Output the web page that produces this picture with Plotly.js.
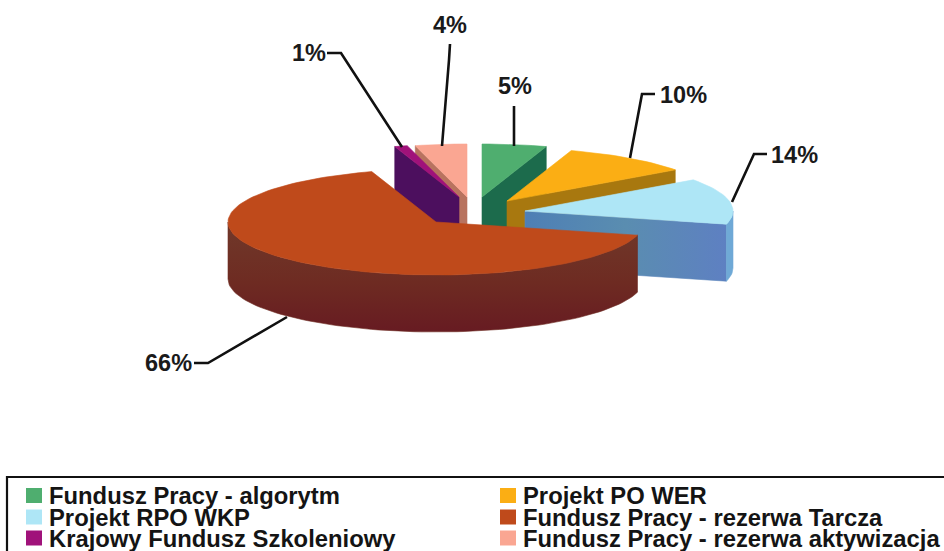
<!DOCTYPE html>
<html>
<head>
<meta charset="utf-8">
<script src="https://cdn.plot.ly/plotly-3.0.1.min.js"></script>
<style>html,body{margin:0;padding:0;background:#fff}#chart{width:944px;height:551px}</style>
</head>
<body>
<div id="chart"></div>
<script>
// Data
var categories = ["Fundusz Pracy - algorytm","Projekt PO WER","Projekt RPO WKP","Fundusz Pracy - rezerwa Tarcza","Krajowy Fundusz Szkoleniowy","Fundusz Pracy - rezerwa aktywizacja"];
var shares = [5,10,14,66,1,4];

// Styles
var topColors  = ["#4FAE6F","#FBAE14","#AEE6F6","#BF4A1B","#A0127A","#FAA692"];
var faceColors = ["#1C6B4C","#A8780F","#5C86BC","#6E2B22","#4C0F5E","#B8735F"];
var rimColors  = ["#1C6B4C","#A8780F","#6FA9D6","#6E2B22","#4C0F5E","#B8735F"];

// Layout of the tilted, exploded pie (pixel-like axes)
var RX = 208, RY = 53, DEPTH = 57;
var apexX = [482,507,525,436,459,467];
var apexY = [197,201,211,222,197,197];
var drawOrder = [0,5,4,1,2,3];
var leaders = [
  {i:0, t:[[514,106]],            rim:[514,146]},
  {i:1, t:[[655,94],[642,94]],    rim:[630,158]},
  {i:2, t:[[767,154],[754,154]],  rim:[732,202]},
  {i:3, t:[[194,363],[208,363]],  rim:[287,317]},
  {i:4, t:[[327,53],[341,53]],    rim:[402,147]},
  {i:5, t:[[450,44],[449,60]],    rim:[442,146]}
];
var labelPos = [[515,86,"center"],[658,95,"left"],[769,155,"left"],[194,363,"right"],[328,53,"right"],[450,25,"center"]];

// Angular extents from the values (clockwise from 12 o'clock)
var total = shares.reduce(function(a,b){return a+b;},0);
var starts = [], ends = [], acc = 90;
shares.forEach(function(v){ starts.push(acc); acc -= v/total*360; ends.push(acc); });

function rim(i,deg,drop){
  var r = deg*Math.PI/180;
  return [apexX[i]+RX*Math.cos(r), apexY[i]-RY*Math.sin(r)+(drop||0)];
}
function arc(i,a,b,drop){
  var pts=[], n=Math.max(2,Math.ceil(Math.abs(a-b)/2));
  for(var k=0;k<=n;k++){ pts.push(rim(i,a+(b-a)*k/n,drop)); }
  return pts;
}
function poly(pts,color,name,grad){
  var xs=pts.map(function(p){return p[0];}), ys=pts.map(function(p){return p[1];});
  xs.push(xs[0]); ys.push(ys[0]);
  var tr={type:"scatter",mode:"lines",x:xs,y:ys,fill:"toself",fillcolor:color,
    line:{color:color,width:0.6},name:name,showlegend:false,hoverinfo:"name"};
  if(grad){ tr.fillgradient=grad; }
  return tr;
}
function cos(d){return Math.cos(d*Math.PI/180);}

var traces=[];
drawOrder.forEach(function(i){
  var name=categories[i], s=starts[i], e=ends[i], ax=apexX[i], ay=apexY[i];
  // cut faces that look toward the viewer
  [[e,cos(e)>0.001],[s,cos(s)<-0.001]].forEach(function(f){
    if(f[1]){
      var p=rim(i,f[0]);
      var g = i===2 ? {type:"horizontal",colorscale:[[0,"#4E7FB5"],[0.5,"#5A8DB0"],[1,"#5E80C2"]]} : null;
      traces.push(poly([[ax,ay],p,[p[0],p[1]+DEPTH],[ax,ay+DEPTH]],faceColors[i],name,g));
    }
  });
  // outer wall: part of the slice below the horizontal
  var a=Math.min(s,0), b=Math.max(e,-180);
  if(a>b){
    var front=arc(i,a,b,0), back=arc(i,b,a,DEPTH);
    var grad = i===3 ? {type:"vertical",colorscale:[[0,"#671B22"],[0.45,"#6E2B22"],[1,"#70392A"]]} : null;
    traces.push(poly(front.concat(back),rimColors[i],name,grad));
  }
  // top surface
  traces.push(poly([[ax,ay]].concat(arc(i,s,e,0)),topColors[i],name));
});

// Leader lines
leaders.forEach(function(l){
  var pts=l.t.concat([l.rim]);
  traces.push({type:"scatter",mode:"lines",x:pts.map(function(p){return p[0];}),y:pts.map(function(p){return p[1];}),
    line:{color:"#111",width:2.6},showlegend:false,hoverinfo:"skip"});
});

var FONT="Liberation Sans, Arial, sans-serif";
var annotations=[], shapes=[];
shares.forEach(function(v,i){
  annotations.push({xref:"x",yref:"y",x:labelPos[i][0],y:labelPos[i][1],text:"<b>"+v+"%</b>",showarrow:false,
    xanchor:labelPos[i][2],yanchor:"middle",font:{family:FONT,size:23.5,color:"#1a1a1a"}});
});

// Legend box and entries
shapes.push({type:"rect",xref:"x",yref:"y",x0:7,x1:960,y0:477,y1:570,line:{color:"#111",width:2.2},fillcolor:"rgba(0,0,0,0)"});
var rowY=[495.5,517,538], colSwatch=[26,500], colText=[47,521];
categories.forEach(function(c,i){
  var col=i%2, row=Math.floor(i/2);
  shapes.push({type:"rect",xref:"x",yref:"y",x0:colSwatch[col],x1:colSwatch[col]+16,y0:rowY[row]-7.5,y1:rowY[row]+7.5,
    line:{width:0},fillcolor:topColors[i]});
  annotations.push({xref:"x",yref:"y",x:colText[col],y:rowY[row],text:"<b>"+c+"</b>",showarrow:false,
    xanchor:"left",yanchor:"middle",font:{family:FONT,size:23.8,color:"#141414"}});
});

Plotly.newPlot("chart",traces,{
  width:944,height:551,margin:{l:0,r:0,t:0,b:0,pad:0},
  paper_bgcolor:"#fff",plot_bgcolor:"#fff",showlegend:false,
  xaxis:{range:[0,944],visible:false,fixedrange:true},
  yaxis:{range:[551,0],visible:false,fixedrange:true},
  shapes:shapes,annotations:annotations
},{displayModeBar:false,staticPlot:true});
</script>
</body>
</html>
